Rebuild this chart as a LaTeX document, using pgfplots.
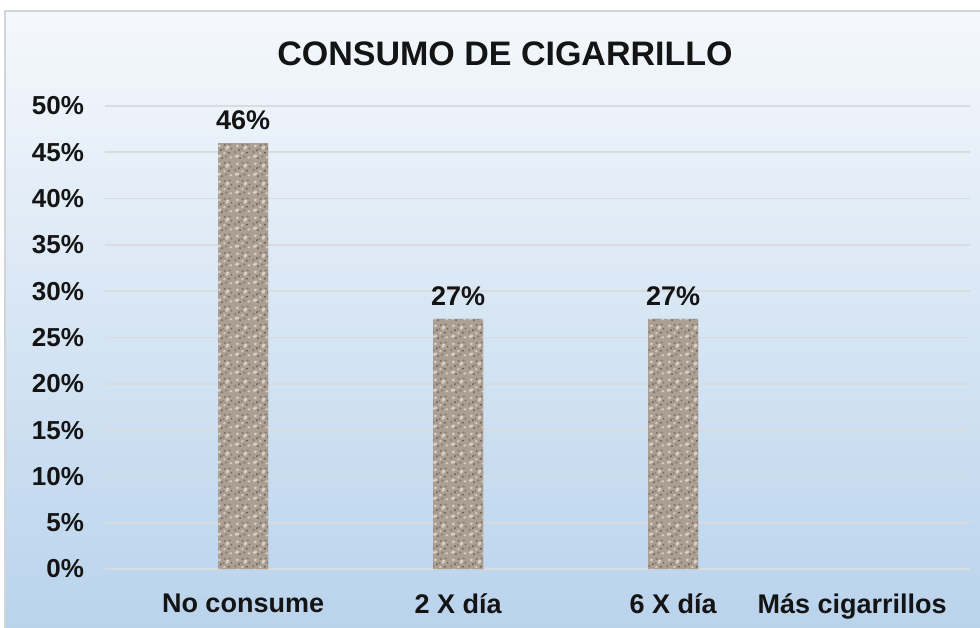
\documentclass[border=0pt]{standalone}
\usepackage{pgfplots}
\pgfplotsset{compat=1.18}
\usepackage{fontspec}
\setmainfont{Liberation Sans}
\usetikzlibrary{patterns}
\definecolor{bgtop}{HTML}{F5F8FC}
\definecolor{bgbot}{HTML}{B9D3EC}
\definecolor{framec}{HTML}{D2D5D8}
\definecolor{gridc}{HTML}{D9DCDF}
\definecolor{granite}{HTML}{AB9F93}
\definecolor{granitedark}{HTML}{6E6257}
\definecolor{granitemid}{HTML}{8C7F73}
\definecolor{granitelight}{HTML}{D8D0C6}
\definecolor{txt}{HTML}{141414}
\pgfdeclarepatterninherentlycolored{granitetex}
{\pgfpointorigin}{\pgfpoint{9pt}{9pt}}{\pgfpoint{9pt}{9pt}}
{
  \pgfsetfillcolor{granite}
  \pgfpathrectangle{\pgfpointorigin}{\pgfpoint{9pt}{9pt}}\pgfusepath{fill}
  \pgfsetfillcolor{granitelight}
  \pgfpathellipse{\pgfpoint{1.6pt}{2.0pt}}{\pgfpoint{1.1pt}{0.3pt}}{\pgfpoint{0pt}{0.8pt}}\pgfusepath{fill}
  \pgfpathellipse{\pgfpoint{6.0pt}{6.5pt}}{\pgfpoint{0.9pt}{0pt}}{\pgfpoint{0.3pt}{1.1pt}}\pgfusepath{fill}
  \pgfpathellipse{\pgfpoint{4.4pt}{3.6pt}}{\pgfpoint{0.7pt}{0pt}}{\pgfpoint{0pt}{0.6pt}}\pgfusepath{fill}
  \pgfpathellipse{\pgfpoint{7.8pt}{1.4pt}}{\pgfpoint{0.8pt}{0.2pt}}{\pgfpoint{0pt}{0.6pt}}\pgfusepath{fill}
  \pgfpathellipse{\pgfpoint{1.8pt}{7.4pt}}{\pgfpoint{0.9pt}{0pt}}{\pgfpoint{0pt}{0.7pt}}\pgfusepath{fill}
  \pgfsetfillcolor{granitedark}
  \pgfpathellipse{\pgfpoint{3.2pt}{1.0pt}}{\pgfpoint{0.6pt}{0pt}}{\pgfpoint{0pt}{0.5pt}}\pgfusepath{fill}
  \pgfpathellipse{\pgfpoint{6.8pt}{3.8pt}}{\pgfpoint{0.7pt}{0.2pt}}{\pgfpoint{0pt}{0.5pt}}\pgfusepath{fill}
  \pgfpathellipse{\pgfpoint{2.6pt}{5.2pt}}{\pgfpoint{0.5pt}{0pt}}{\pgfpoint{0.2pt}{0.7pt}}\pgfusepath{fill}
  \pgfpathellipse{\pgfpoint{4.6pt}{7.9pt}}{\pgfpoint{0.6pt}{0pt}}{\pgfpoint{0pt}{0.4pt}}\pgfusepath{fill}
  \pgfpathellipse{\pgfpoint{8.2pt}{6.0pt}}{\pgfpoint{0.4pt}{0pt}}{\pgfpoint{0pt}{0.5pt}}\pgfusepath{fill}
  \pgfsetfillcolor{granitemid}
  \pgfpathellipse{\pgfpoint{5.4pt}{1.8pt}}{\pgfpoint{0.7pt}{0pt}}{\pgfpoint{0pt}{0.6pt}}\pgfusepath{fill}
  \pgfpathellipse{\pgfpoint{0.7pt}{4.2pt}}{\pgfpoint{0.6pt}{0pt}}{\pgfpoint{0pt}{0.8pt}}\pgfusepath{fill}
  \pgfpathellipse{\pgfpoint{7.2pt}{8.2pt}}{\pgfpoint{0.8pt}{0pt}}{\pgfpoint{0pt}{0.5pt}}\pgfusepath{fill}
  \pgfpathellipse{\pgfpoint{4.0pt}{5.8pt}}{\pgfpoint{0.5pt}{0pt}}{\pgfpoint{0pt}{0.5pt}}\pgfusepath{fill}
}
\begin{document}
\begin{tikzpicture}
\useasboundingbox (0,0) rectangle (490pt,313.5pt);
\shade[top color=bgtop, bottom color=bgbot] (2.5pt,-2pt) rectangle (492pt,308pt);
\draw[framec, line width=1pt] (2.5pt,-2pt) -- (2.5pt,308pt) -- (492pt,308pt);
\node[font=\fontsize{17}{20}\selectfont\bfseries, text=txt] at (252.5pt,286.5pt) {CONSUMO DE CIGARRILLO};
\begin{axis}[
  at={(52.5pt,29pt)}, anchor=south west,
  scale only axis, width=432.5pt, height=231.5pt,
  xmin=-0.642, xmax=3.381, ymin=0, ymax=50,
  axis line style={draw=none},
  major tick length=0pt,
  ytick={0,5,...,50},
  yticklabel={\pgfmathprintnumber{\tick}\%},
  /pgf/number format/assume math mode=true,
  xtick={0,1,2,2.833},
  xticklabels={No consume, 2 X día, 6 X día, Más cigarrillos},
  ymajorgrids, grid style={gridc, line width=0.9pt},
  yticklabel style={font=\fontsize{13}{15}\selectfont\bfseries, text=txt, xshift=-7pt},
  xticklabel style={font=\fontsize{13.5}{16}\selectfont\bfseries, text=txt, yshift=-9pt},
  ybar, bar width=25pt,
  nodes near coords={\pgfmathprintnumber{\pgfplotspointmeta}\%},
  every node near coord/.append style={font=\fontsize{13.5}{16}\selectfont\bfseries, text=txt, yshift=3pt},
]
\addplot[draw=none, fill=granite, postaction={pattern=granitetex}]
  coordinates {(0,46) (1,27) (2,27)};
\end{axis}
\end{tikzpicture}
\end{document}
